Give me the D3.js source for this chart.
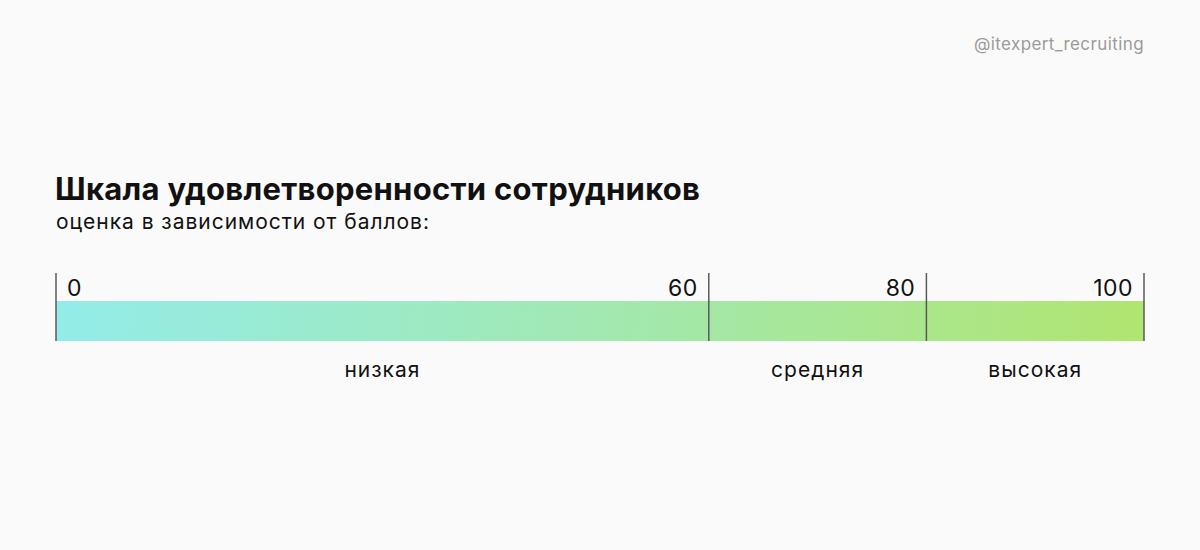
<!DOCTYPE html>
<html>
<head>
<meta charset="utf-8">
<script src="https://cdn.jsdelivr.net/npm/d3@7"></script>
<style>
  html, body { margin: 0; padding: 0; background: #fafafa; }
  svg { display: block; font-family: "Inter", "Noto Sans", sans-serif; }
</style>
</head>
<body>
<svg id="chart" width="1200" height="550"></svg>
<script>
var thresholds = [0, 60, 80, 100];
var tickLabels = ["0", "60", "80", "100"];
var categories = ["низкая", "средняя", "высокая"];
var segStart = [0, 60, 80];
var segEnd = [60, 80, 100];

var title = "Шкала удовлетворенности сотрудников";
var subtitle = "оценка в зависимости от баллов:";
var handle = "@itexpert_recruiting";

var svg = d3.select("#chart");
var x = d3.scaleLinear().domain([0, 100]).range([56, 1144]);
var barTop = 301, barH = 40;

var defs = svg.append("defs");
var grad = defs.append("linearGradient")
    .attr("id", "scaleGrad")
    .attr("gradientUnits", "userSpaceOnUse")
    .attr("x1", x(0)).attr("y1", barTop)
    .attr("x2", x(100)).attr("y2", barTop + barH + 40);
grad.append("stop").attr("offset", "0%").attr("stop-color", "#93ece9");
grad.append("stop").attr("offset", "55%").attr("stop-color", "#a3e8ab");
grad.append("stop").attr("offset", "100%").attr("stop-color", "#b1e570");

svg.append("text")
    .attr("x", 1144).attr("y", 50)
    .attr("text-anchor", "end")
    .attr("font-size", 17)
    .attr("letter-spacing", 0.4)
    .attr("fill", "#9a9a9a")
    .text(handle);

svg.append("text")
    .attr("x", 55).attr("y", 200)
    .attr("font-size", 31)
    .attr("font-weight", 700)
    .attr("fill", "#111")
    .attr("textLength", 645)
    .attr("lengthAdjust", "spacing")
    .text(title);

svg.append("text")
    .attr("x", 56).attr("y", 229)
    .attr("font-size", 21)
    .attr("fill", "#111")
    .attr("textLength", 373)
    .attr("lengthAdjust", "spacing")
    .text(subtitle);

// bar
svg.append("rect")
    .attr("x", x(0)).attr("y", barTop)
    .attr("width", x(100) - x(0)).attr("height", barH)
    .attr("fill", "url(#scaleGrad)");

// tick lines
svg.selectAll("line.tick")
    .data(thresholds)
    .enter().append("line")
    .attr("class", "tick")
    .attr("x1", function (d) { return x(d); })
    .attr("x2", function (d) { return x(d); })
    .attr("y1", 273).attr("y2", barTop + barH)
    .attr("stroke", "#5a5a5a")
    .attr("stroke-width", 1.5);

// tick labels
svg.selectAll("text.tickLabel")
    .data(thresholds)
    .enter().append("text")
    .attr("class", "tickLabel")
    .attr("x", function (d, i) { return i == 0 ? x(d) + 11 : x(d) - 11; })
    .attr("y", 296)
    .attr("text-anchor", function (d, i) { return i == 0 ? "start" : "end"; })
    .attr("font-size", 23)
    .attr("letter-spacing", 0.5)
    .attr("fill", "#111")
    .text(function (d, i) { return tickLabels[i]; });

// category labels
svg.selectAll("text.cat")
    .data(categories)
    .enter().append("text")
    .attr("class", "cat")
    .attr("x", function (d, i) { return (x(segStart[i]) + x(segEnd[i])) / 2; })
    .attr("y", 377)
    .attr("text-anchor", "middle")
    .attr("font-size", 21)
    .attr("letter-spacing", 1)
    .attr("fill", "#111")
    .text(function (d) { return d; });
</script>
</body>
</html>
